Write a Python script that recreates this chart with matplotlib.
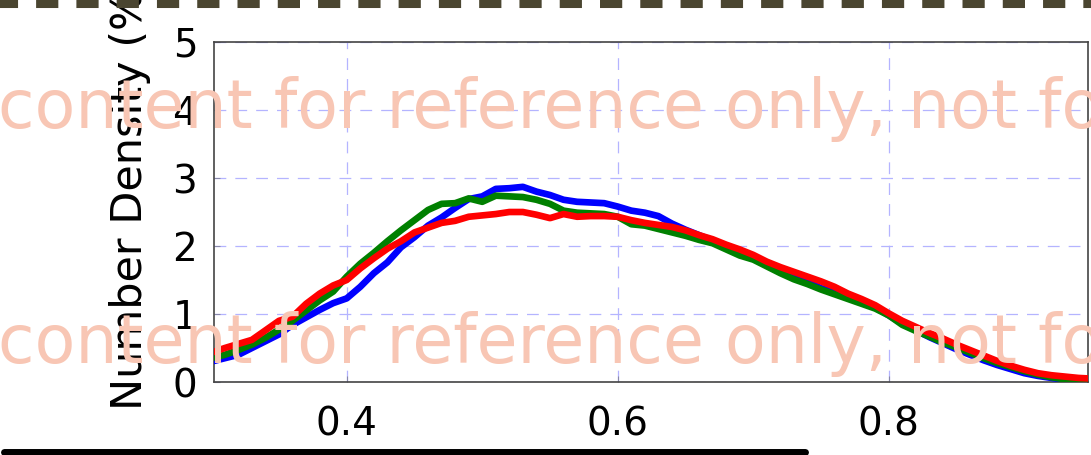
import numpy as np
from matplotlib import pyplot as plt
from matplotlib.lines import Line2D

plt.rcParams['lines.scale_dashes'] = False
plt.rcParams['font.family'] = ['DejaVu Sans']

# density curves, x step 0.01 from 0.30 to 0.95
x_vals = np.round(np.arange(0.30, 0.951, 0.01), 2)

blue_vals = [0.30, 0.35, 0.40, 0.50, 0.60, 0.70, 0.84, 0.95, 1.06, 1.16,
             1.23, 1.40, 1.60, 1.76, 1.98, 2.13, 2.30, 2.42, 2.56, 2.69,
             2.73, 2.84, 2.85, 2.87, 2.80, 2.75, 2.68, 2.65, 2.64, 2.63,
             2.58, 2.52, 2.49, 2.44, 2.33, 2.24, 2.16, 2.08, 1.99, 1.90,
             1.82, 1.72, 1.63, 1.54, 1.47, 1.38, 1.32, 1.24, 1.17, 1.10,
             0.98, 0.86, 0.76, 0.66, 0.57, 0.48, 0.40, 0.32, 0.25, 0.19,
             0.13, 0.09, 0.06, 0.03, 0.02, 0.01]

green_vals = [0.35, 0.40, 0.47, 0.55, 0.65, 0.77, 0.90, 1.05, 1.20, 1.33,
              1.55, 1.74, 1.90, 2.07, 2.23, 2.38, 2.53, 2.62, 2.63, 2.70,
              2.65, 2.74, 2.73, 2.72, 2.68, 2.62, 2.52, 2.49, 2.48, 2.47,
              2.43, 2.32, 2.30, 2.25, 2.20, 2.15, 2.09, 2.04, 1.95, 1.86,
              1.80, 1.70, 1.60, 1.51, 1.44, 1.36, 1.29, 1.22, 1.15, 1.08,
              0.98, 0.84, 0.75, 0.67, 0.58, 0.51, 0.43, 0.35, 0.28, 0.22,
              0.16, 0.11, 0.07, 0.04, 0.02, 0.01]

red_vals = [0.43, 0.50, 0.56, 0.62, 0.76, 0.90, 0.96, 1.15, 1.30, 1.42,
            1.50, 1.67, 1.82, 1.96, 2.07, 2.20, 2.27, 2.34, 2.37, 2.43,
            2.45, 2.47, 2.50, 2.50, 2.46, 2.41, 2.47, 2.43, 2.44, 2.44,
            2.43, 2.38, 2.34, 2.31, 2.28, 2.23, 2.16, 2.10, 2.02, 1.95,
            1.87, 1.77, 1.69, 1.62, 1.55, 1.48, 1.40, 1.30, 1.22, 1.13,
            1.01, 0.90, 0.81, 0.72, 0.64, 0.55, 0.47, 0.39, 0.31, 0.24,
            0.18, 0.13, 0.10, 0.08, 0.06, 0.05]

x_ticks = [0.4, 0.6, 0.8]
y_ticks = [0, 1, 2, 3, 4, 5]
watermark = 'content for reference only, not for'

fig = plt.figure(figsize=(10.91, 4.55), dpi=100)
ax = fig.add_axes([0.1961, 0.1604, 0.8011, 0.7473])

for vals, col in [(blue_vals, '#0000ff'), (green_vals, '#008000'), (red_vals, '#ff0000')]:
    ax.plot(x_vals, vals, color=col, lw=4.8, solid_joinstyle='round', zorder=3)

ax.set_xlim(0.302, 0.947)
ax.set_ylim(0, 5)
ax.set_xticks(x_ticks)
ax.set_xticklabels([f'{t:.1f}' for t in x_ticks])
ax.set_yticks(y_ticks)
ax.grid(True, color='#b4b4ff', lw=0.9, linestyle=(0, (8.5, 6.5)))
ax.tick_params(axis='both', direction='in', length=4, color='#8888aa', labelsize=28)
ax.tick_params(axis='x', pad=17)
ax.tick_params(axis='y', pad=12)
for s in ax.spines.values():
    s.set_color('#444444')
    s.set_linewidth(1.2)
ax.set_ylabel('Number Density (%)', fontsize=31)
ax.yaxis.set_label_coords(-0.072, 0.56)

# decorations around the crop
fig.add_artist(Line2D([0, 1], [1 - 4 / 455, 1 - 4 / 455], transform=fig.transFigure,
                      color='#4a4530', lw=5.8, linestyle=(3, (16, 13)),
                      solid_capstyle='butt'))
fig.add_artist(Line2D([0.004, 0.738], [1 - 452 / 455, 1 - 452 / 455], transform=fig.transFigure,
                      color='black', lw=5.0, solid_capstyle='round'))

for yb in [1 - 128 / 455, 1 - 363 / 455]:
    fig.text(-0.002, yb, watermark, fontsize=48, color='#f8c6b4', va='baseline',
             ha='left', zorder=10)

fig.savefig('out.png', dpi=100)
